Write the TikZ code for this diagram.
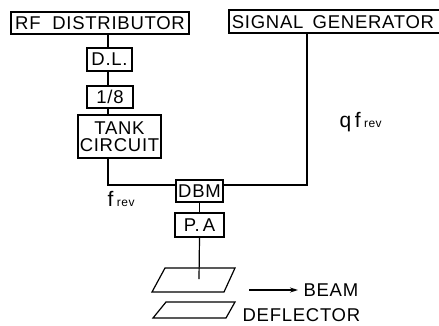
\documentclass[tikz,border=0pt]{standalone}
\usepackage{fontspec}
\setmainfont[LetterSpace=4]{Liberation Sans}
\usetikzlibrary{arrows.meta}
\begin{document}
\begin{tikzpicture}[x=1pt,y=-1pt,line width=1.2pt,
  blk/.style={draw, inner sep=0pt, font=\fontsize{18.5}{17}\selectfont, align=center},
  lbl/.style={inner sep=0pt, font=\fontsize{18.5}{17}\selectfont},
  plate/.style={line width=1.2pt, line join=miter}
]
\useasboundingbox (0,0) rectangle (439,325);

% blocks
\node[blk, minimum width=178pt, minimum height=22pt] (rf) at (100,23) {RF\ \ DISTRIBUTOR};
\node[blk, minimum width=212pt, minimum height=23pt] (sg) at (335,21.5) {};
\node[lbl] (sgt) at (333,22) {SIGNAL\hspace{0.5em}GENERATOR};
\node[blk, minimum width=45pt, minimum height=23pt] (dl) at (109.5,59.5) {D.L.};
\node[blk, minimum width=46pt, minimum height=22pt] (oe) at (110,97) {1/8};
\node[blk, minimum width=83pt, minimum height=43pt] (tank) at (119.5,136.5) {TANK\\CIRCUIT};
\node[blk, minimum width=47pt, minimum height=22pt] (dbm) at (199.5,191) {DBM};
\node[blk, minimum width=49pt, minimum height=24pt] (pa) at (199.5,225) {P.\,A};

% helper coordinates
\coordinate (trunk) at (108,0);
\coordinate (sgx) at (307,0);
\coordinate (hl) at (0,185);
\coordinate (ptip) at (199,279);

% connectors
\draw (rf.south -| trunk) -- (dl.north -| trunk);
\draw (dl.south -| trunk) -- (oe.north -| trunk);
\draw (oe.south -| trunk) -- (tank.north -| trunk);
\draw (tank.south -| trunk) |- (dbm.west |- hl);
\draw (sg.south -| sgx) |- (dbm.east |- hl);
\draw (dbm.south) -- (pa.north);
\draw (pa.south) -- (ptip);

% deflector plates
\draw[plate] (152,292) -- (224,292) -- (235,268) -- (165,268) -- cycle;
\draw[plate] (153,318) -- (226,318) -- (235,302) -- (166,302) -- cycle;

% beam arrow
\coordinate (arst) at (249,290);
\coordinate (arend) at (298,290);
\draw[-{Stealth[length=8pt,width=5pt]}] (arst) -- (arend);
\node[lbl, anchor=west] (beam) at (303,290) {BEAM};
\node[lbl, anchor=west] (defl) at (242,315.5) {DEFLECTOR};

% frequency labels
\node[inner sep=0pt, anchor=base west] (qf) at (339,127)
  {\fontsize{21}{21}\selectfont q\,f\,{\fontsize{12}{12}\selectfont rev}};
\node[inner sep=0pt, anchor=base west] (fr) at (107,206)
  {\fontsize{21}{21}\selectfont f\,{\fontsize{12}{12}\selectfont rev}};
\end{tikzpicture}
\end{document}
